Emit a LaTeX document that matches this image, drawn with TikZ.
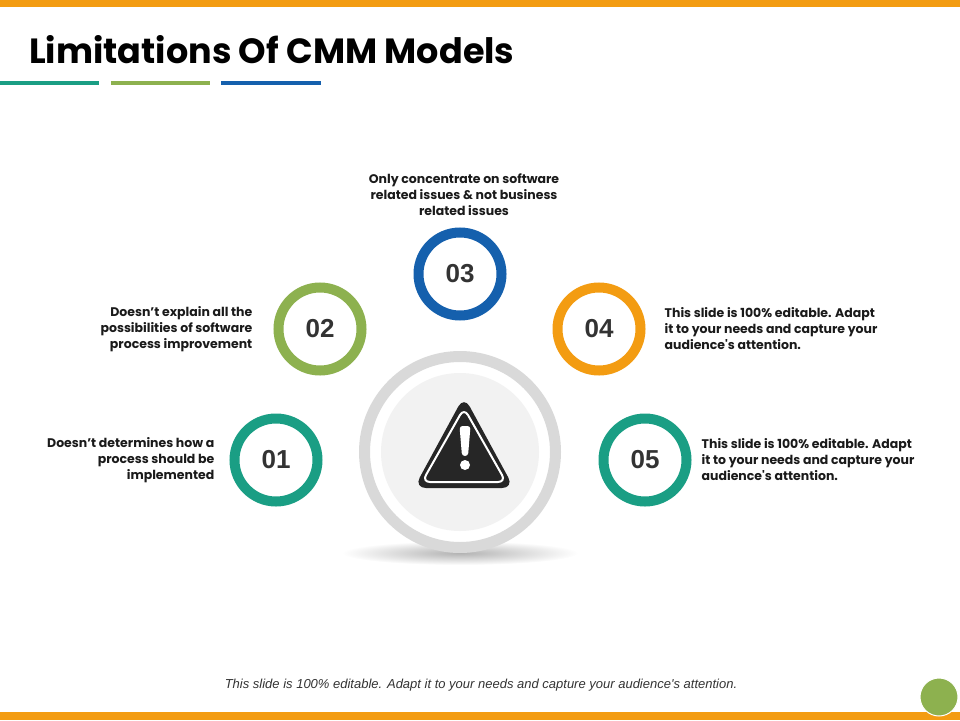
\documentclass[tikz,border=0pt]{standalone}
\usepackage{fontspec}
\usepackage{tikz}
\usepackage{xcolor}
\usetikzlibrary{positioning}
\setmainfont{Poppins}
\newfontfamily\numfont{Liberation Sans}
\definecolor{orangebar}{HTML}{F39C12}
\definecolor{tealc}{HTML}{1A9E84}
\definecolor{greenc}{HTML}{8DB14F}
\definecolor{bluec}{HTML}{1560AD}
\definecolor{orangec}{HTML}{F39C12}
\definecolor{ringgray}{HTML}{D9D9D9}
\definecolor{innergray}{HTML}{F2F2F2}
\definecolor{warndark}{HTML}{262626}
\definecolor{numgray}{HTML}{333333}
\definecolor{notetext}{HTML}{1A1A1A}
\definecolor{footgray}{HTML}{333333}

\begin{document}
\begin{tikzpicture}[x=1pt, y=-1pt,
	ring/.style={circle, draw=#1, line width=10pt, minimum size=83pt, inner sep=0pt, text=numgray, font=\numfont\bfseries\fontsize{26}{26}\selectfont},
	note/.style={inner sep=0pt, text=notetext, font=\bfseries\fontsize{12.5}{16}\selectfont}]
	\useasboundingbox (0,0) rectangle (960,720);
	\fill[orangebar] (0,0) rectangle (960,7);
	\fill[orangebar] (0,712) rectangle (960,720);
	\node[anchor=base west, inner sep=0pt, font=\bfseries\fontsize{35}{36}\selectfont] (title) at (29,63) {Limitations Of CMM Models};
	\fill[tealc] (0,81) rectangle (99,85);
	\fill[greenc] (111,81) rectangle (210,85);
	\fill[bluec] (221,81) rectangle (321,85);
	% shadow and big circle
	\shade[inner color=black!30, outer color=white] (460,553) ellipse (118pt and 12pt);
	\node[circle, draw=ringgray, line width=11pt, fill=white, minimum size=191pt] (warn) at (460,452) {};
	\fill[innergray] (warn.center) circle (79pt);
	\fill[warndark, rounded corners=12pt] (464,396) -- (514,488) -- (414,488) -- cycle;
	\draw[white, line width=2pt, rounded corners=8pt] (464,408) -- (506,482) -- (422,482) -- cycle;
	\fill[white, rounded corners=3pt] (459.5,426) -- (470.5,426) -- (468,456) -- (462,456) -- cycle;
	\fill[white] (465,465) circle (5pt);
	\foreach \n/\x/\y/\c in {01/276/460/tealc, 02/320/329/greenc, 03/460/274/bluec, 04/599/329/orangec, 05/645/460/tealc}
	{
		\node[ring=\c] (c\n) at (\x,\y) {\n};
	}
	\node[note, align=right, left=15pt of c01] (t01) {Doesn’t determines how a\\process should be\\implemented};
	\node[note, align=right, left=21pt of c02] (t02) {Doesn’t explain all the\\possibilities of software\\process improvement};
	\node[note, align=center, above=12pt of c03, xshift=4pt] (t03) {Only concentrate on software\\related issues \& not business\\related issues};
	\node[note, align=left, right=19pt of c04] (t04) {This slide is 100\% editable. Adapt\\it to your needs and capture your\\audience\textquotesingle s attention.};
	\node[note, align=left, right=10pt of c05] (t05) {This slide is 100\% editable. Adapt\\it to your needs and capture your\\audience\textquotesingle s attention.};
	\node[anchor=base, inner sep=0pt, text=footgray, font=\numfont\itshape\fontsize{13}{13}\selectfont] (foot) at (481,688) {This slide is 100\% editable. Adapt it to your needs and capture your audience\textquotesingle s attention.};
	\node[circle, fill=greenc, draw=white, line width=1pt, minimum size=38pt, inner sep=0pt] (dot) at (939,697) {};
\end{tikzpicture}
\end{document}
